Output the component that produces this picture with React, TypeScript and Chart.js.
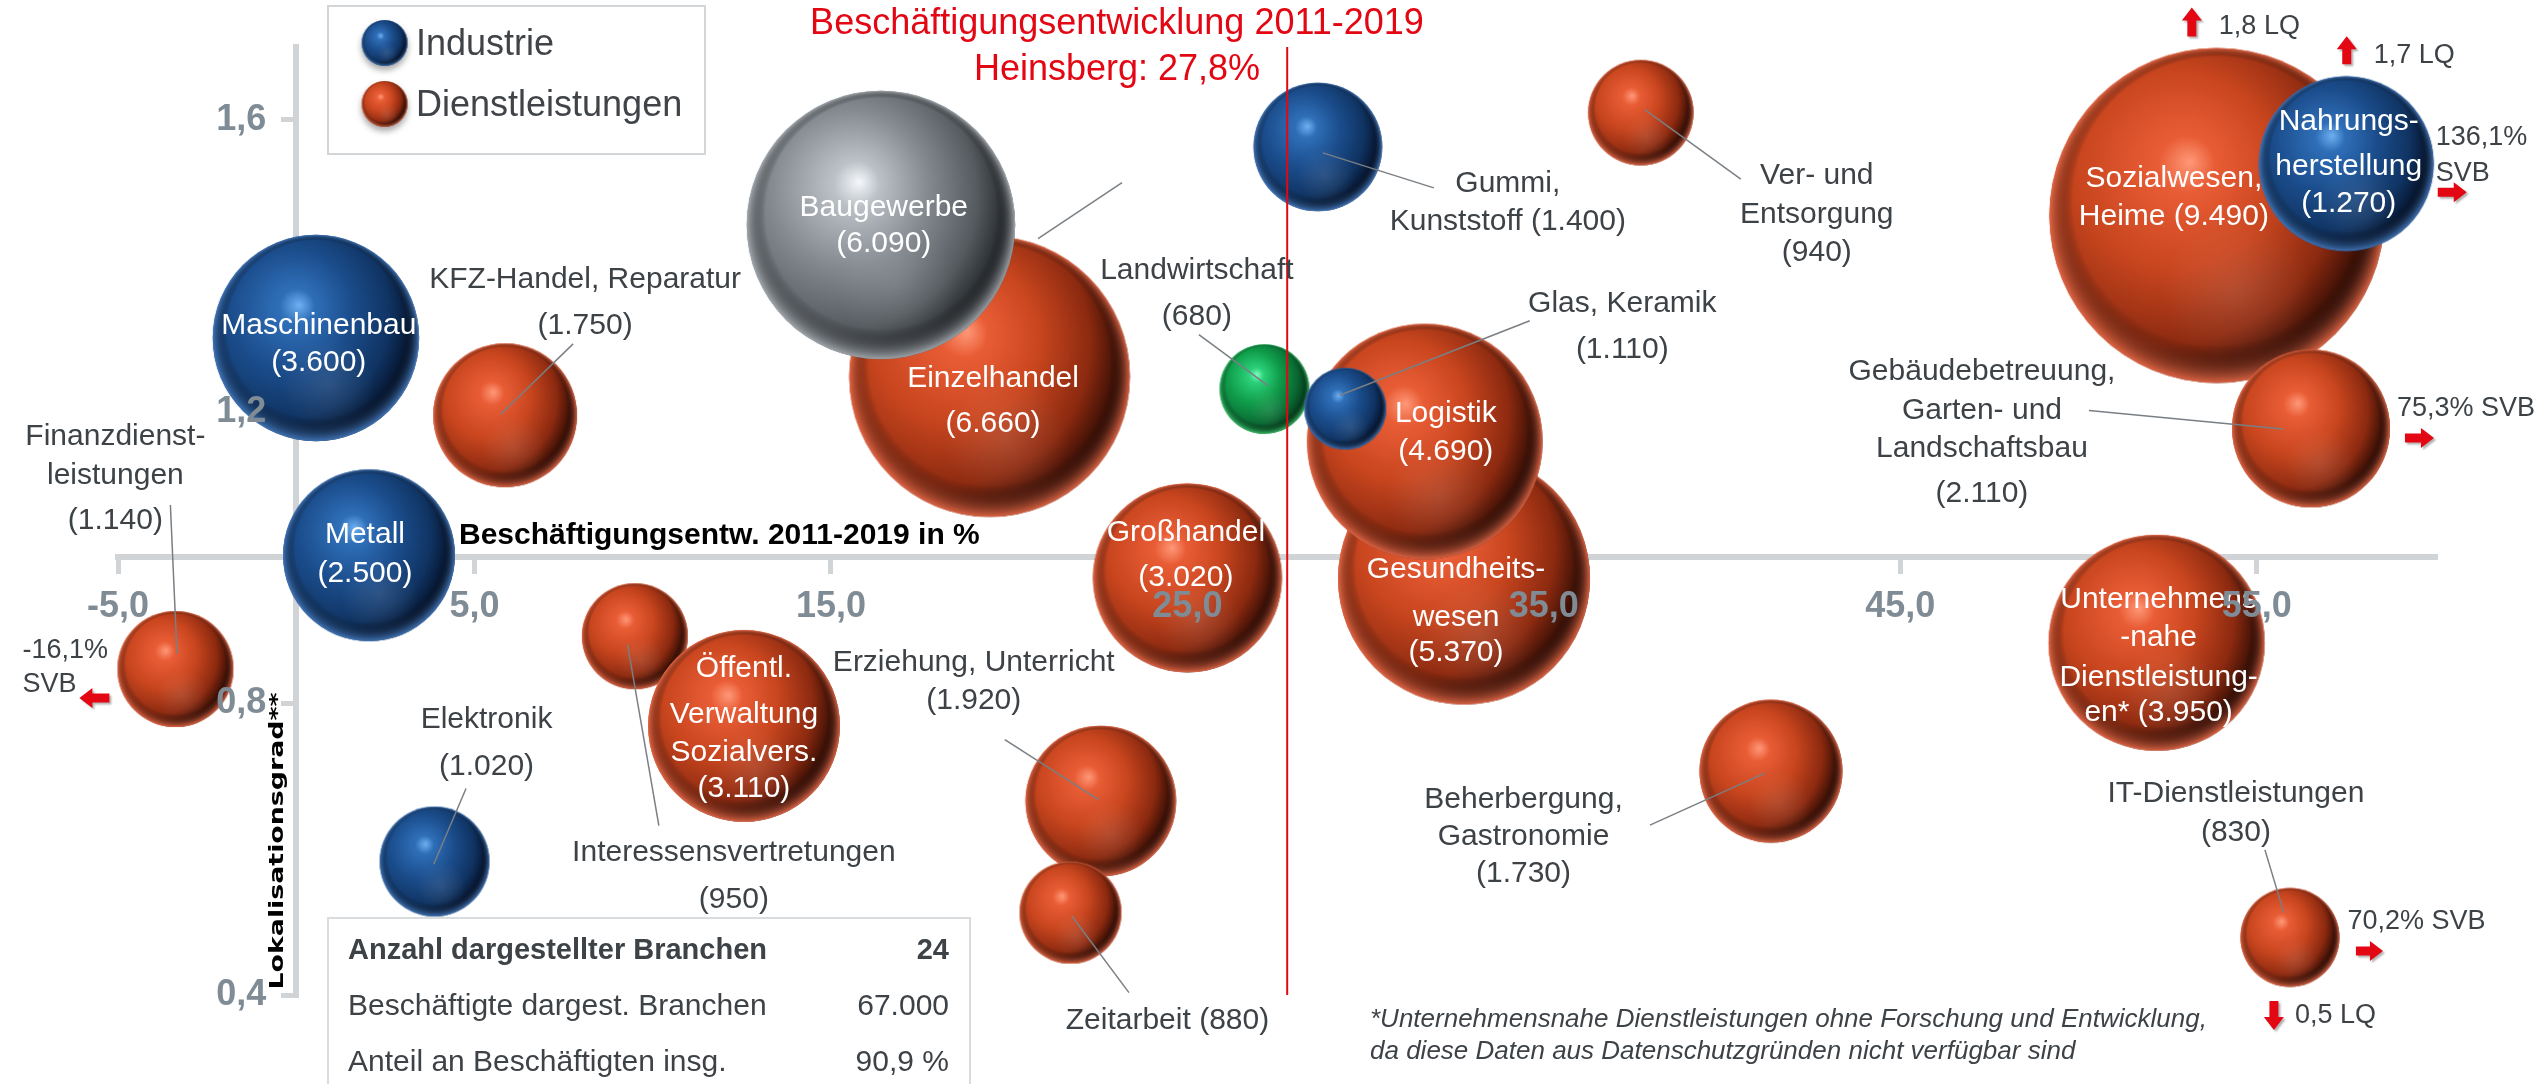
import React, { useEffect, useRef } from "react";
import { Chart, registerables } from "chart.js";

Chart.register(...registerables);

// ---------------- data ----------------
const xTickValues = [-5, 5, 15, 25, 35, 45, 55];
const yTickValues = [0.4, 0.8, 1.2, 1.6];
const xMin = -5;
const xMax = 60;
const yMin = 0.4;
const yMax = 1.7;
const heinsbergEntwicklung = 27.8;

const industrieBranchen = ["Maschinenbau", "Metall", "Elektronik", "Gummi, Kunststoff", "Glas, Keramik", "Nahrungsherstellung"];
const industrieEntwicklung = [0.55, 2.04, 3.88, 28.66, 29.43, 57.51];
const industrieLQ = [1.301, 1.003, 0.583, 1.563, 1.204, 1.54];
const industrieBeschaeftigte = [3600, 2500, 1020, 1400, 1110, 1270];
const industrieBubble = [3600, 2500, 1020, 1400, 570, 2590];

const bauBranchen = ["Baugewerbe"];
const bauEntwicklung = [16.4];
const bauLQ = [1.456];
const bauBeschaeftigte = [6090];
const bauBubble = [6090];

const agrarBranchen = ["Landwirtschaft"];
const agrarEntwicklung = [27.16];
const agrarLQ = [1.231];
const agrarBeschaeftigte = [680];
const agrarBubble = [680];

const dienstBranchen = [
  "Finanzdienstleistungen", "KFZ-Handel, Reparatur", "Einzelhandel", "Gesundheitswesen", "Logistik",
  "Großhandel", "Interessensvertretungen", "Öffentl. Verwaltung Sozialvers.", "Erziehung, Unterricht",
  "Zeitarbeit", "Ver- und Entsorgung", "Beherbergung, Gastronomie", "Sozialwesen, Heime",
  "Gebäudebetreuung, Garten- und Landschaftsbau", "Unternehmensnahe Dienstleistungen", "IT-Dienstleistungen",
];
const dienstEntwicklung = [-3.39, 5.86, 19.45, 32.76, 31.66, 25.0, 9.5, 12.56, 22.57, 21.72, 37.72, 41.37, 53.88, 56.52, 52.19, 55.93];
const dienstLQ = [0.847, 1.195, 1.248, 0.971, 1.159, 0.972, 0.892, 0.769, 0.666, 0.513, 1.61, 0.707, 1.469, 1.177, 0.883, 0.479];
const dienstBeschaeftigte = [1140, 1750, 6660, 5370, 4690, 3020, 950, 3110, 1920, 880, 940, 1730, 9490, 2110, 3950, 830];
const dienstBubble = [1140, 1750, 6660, 5370, 4690, 3020, 950, 3110, 1920, 880, 940, 1730, 9490, 2110, 3950, 830];

const legendLabels = ["Industrie", "Dienstleistungen"];
const titleLine1 = "Beschäftigungsentwicklung 2011-2019";
const xAxisTitle = "Beschäftigungsentw. 2011-2019 in %";
const yAxisTitle = "Lokalisationsgrad**";
const tableRows = [
  ["Anzahl dargestellter Branchen", "24"],
  ["Beschäftigte dargest. Branchen", "67.000"],
  ["Anteil an Beschäftigten insg.", "90,9 %"],
];
const footnoteLines = [
  "*Unternehmensnahe Dienstleistungen ohne Forschung und Entwicklung,",
  "da diese Daten aus Datenschutzgründen nicht verfügbar sind",
];

// ---------------- styles / layout ----------------
const FONT = '"Liberation Sans", Arial, Helvetica, sans-serif';
const DARK_TEXT = "#3d4247";
const TICK_COLOR = "#7f8b95";
const AXIS_COLOR = "#d0d4d7";
const RED = "#e30613";
const R_SCALE = 1.72; // px per sqrt(size)

type Pal = { hi: string; light: string; base: string; mid: string; dark: string; rim: string };
const PAL_ORANGE: Pal = { hi: "#ff9878", light: "#e95d36", base: "#c9461f", mid: "#8c2a10", dark: "#2c0b04", rim: "rgba(236,108,74,0.9)" };
const PAL_BLUE: Pal = { hi: "#6fb0f2", light: "#2f6fb8", base: "#1b4d8c", mid: "#103463", dark: "#05122a", rim: "rgba(70,125,195,0.9)" };
const PAL_GREY: Pal = { hi: "#f6f9fc", light: "#bcc2c7", base: "#848a90", mid: "#565b60", dark: "#222629", rim: "rgba(170,176,182,0.9)" };
const PAL_GREEN: Pal = { hi: "#7dffc0", light: "#2bd079", base: "#109c4a", mid: "#0a6a33", dark: "#043a1a", rim: "rgba(60,200,110,0.9)" };

type Note = { t: string; x: number; y: number };
type LabelLayout = {
  lines: string[];
  dx: number;
  dys: number[];
  white?: boolean;
  leader?: [number, number, number, number];
  notes?: Note[];
  arrows?: [number, number, number, number][];
};

// offsets in px relative to bubble centre; "#" is replaced with the employment number
const labelLayout: Record<string, LabelLayout> = {
  "Maschinenbau": { lines: ["Maschinenbau", "#"], dx: 3, dys: [-12, 25], white: true },
  "Metall": { lines: ["Metall", "#"], dx: -4, dys: [-21, 18], white: true },
  "Elektronik": { lines: ["Elektronik", "#"], dx: 52, dys: [-142, -95], leader: [31.5, -73, -0.8, 2.7] },
  "Gummi, Kunststoff": { lines: ["Gummi,", "Kunststoff #"], dx: 190, dys: [37, 75], leader: [5, 6, 116, 41] },
  "Glas, Keramik": { lines: ["Glas, Keramik", "#"], dx: 277, dys: [-105, -58.5], leader: [184.5, -88, -5.5, -13.5] },
  "Nahrungsherstellung": {
    lines: ["Nahrungs-", "herstellung", "#"], dx: 2.5, dys: [-42.4, 2.6, 40.2], white: true,
    notes: [{ t: "1,7 LQ", x: 27.5, y: -108.4 }, { t: "136,1%", x: 89.5, y: -26 }, { t: "SVB", x: 89.5, y: 9.6 }],
    arrows: [[0.5, -99.4, 0.5, -127.4], [91.5, 28.6, 120.5, 28.6]],
  },
  "Baugewerbe": { lines: ["Baugewerbe", "#"], dx: 3, dys: [-17, 19], white: true },
  "Landwirtschaft": { lines: ["Landwirtschaft", "#"], dx: -67.5, dys: [-118.4, -72.4], leader: [-65.5, -54.4, 3.5, -3.4] },
  "Finanzdienstleistungen": {
    lines: ["Finanzdienst-", "leistungen", "#"], dx: -60, dys: [-232, -193, -148], leader: [-5, -164, 1.6, -15],
    notes: [{ t: "-16,1%", x: -153, y: -18.5 }, { t: "SVB", x: -153, y: 15.7 }],
    arrows: [[-66, 29, -96, 29]],
  },
  "KFZ-Handel, Reparatur": { lines: ["KFZ-Handel, Reparatur", "#"], dx: 80, dys: [-136, -90], leader: [68, -71.4, -4.4, -1] },
  "Einzelhandel": { lines: ["Einzelhandel", "#"], dx: 3.5, dys: [2.6, 47], white: true, leader: [48.5, -138, 132.5, -194] },
  "Gesundheitswesen": { lines: ["Gesundheits-", "wesen", "#"], dx: -8, dys: [-9, 39, 74], white: true },
  "Logistik": { lines: ["Logistik", "#"], dx: 21, dys: [-28, 10], white: true },
  "Großhandel": { lines: ["Großhandel", "#"], dx: -1.5, dys: [-45, 0], white: true },
  "Interessensvertretungen": { lines: ["Interessensvertretungen", "#"], dx: 99, dys: [217, 263.5], leader: [-7.3, 8.5, 24, 189.5] },
  "Öffentl. Verwaltung Sozialvers.": { lines: ["Öffentl.", "Verwaltung", "Sozialvers.", "#"], dx: 0, dys: [-57.5, -11, 27, 63], white: true },
  "Erziehung, Unterricht": { lines: ["Erziehung, Unterricht", "#"], dx: -127, dys: [-138.5, -100.5], leader: [-96, -61.5, -2.3, -1.5] },
  "Zeitarbeit": { lines: ["Zeitarbeit #"], dx: 97, dys: [108], leader: [1.5, 3.7, 58.5, 80] },
  "Ver- und Entsorgung": { lines: ["Ver- und", "Entsorgung", "#"], dx: 176, dys: [63, 102, 140], leader: [4, -3, 100, 66.6] },
  "Beherbergung, Gastronomie": { lines: ["Beherbergung,", "Gastronomie", "#"], dx: -247.4, dys: [29, 65.5, 102.5], leader: [-121, 54, -6, 2] },
  "Sozialwesen, Heime": {
    lines: ["Sozialwesen,", "Heime #"], dx: -43, dys: [-36.4, 1], white: true,
    notes: [{ t: "1,8 LQ", x: 2, y: -189 }],
    arrows: [[-25, -179, -25, -208]],
  },
  "Gebäudebetreuung, Garten- und Landschaftsbau": {
    lines: ["Gebäudebetreuung,", "Garten- und", "Landschaftsbau", "#"], dx: -329, dys: [-57, -18, 20, 65.6], leader: [-222, -18, -28, 0.6],
    notes: [{ t: "75,3% SVB", x: 86, y: -20 }],
    arrows: [[94, 9.5, 123, 9.5]],
  },
  "Unternehmensnahe Dienstleistungen": { lines: ["Unternehmens", "-nahe", "Dienstleistung-", "en* #"], dx: 2, dys: [-43, -5, 35, 70], white: true },
  "IT-Dienstleistungen": {
    lines: ["IT-Dienstleistungen", "#"], dx: -54, dys: [-143.5, -104.5], leader: [-25, -87.5, -6, -24.5],
    notes: [{ t: "70,2% SVB", x: 57.5, y: -15.5 }, { t: "0,5 LQ", x: 5, y: 78.5 }],
    arrows: [[66, 13.5, 93, 13.5], [-16, 63.5, -16, 92.5]],
  },
};

// ---------------- helpers ----------------
function fmtThousands(v: number): string {
  return String(v).replace(/\B(?=(\d{3})+(?!\d))/g, ".");
}
function fmtDec(v: number): string {
  return v.toFixed(1).replace(".", ",");
}

function makeSphere(r: number, p: Pal): HTMLCanvasElement {
  const half = Math.ceil(r) + 2;
  const c = document.createElement("canvas");
  c.width = half * 2;
  c.height = half * 2;
  const g = c.getContext("2d")!;
  const cx = half;
  const cy = half;
  const main = g.createRadialGradient(cx - 0.16 * r, cy - 0.32 * r, 0, cx - 0.34 * r, cy - 0.2 * r, 1.4 * r);
  main.addColorStop(0, p.hi);
  main.addColorStop(0.12, p.light);
  main.addColorStop(0.42, p.base);
  main.addColorStop(0.72, p.mid);
  main.addColorStop(0.92, p.dark);
  main.addColorStop(1, p.dark);
  g.beginPath();
  g.arc(cx, cy, r, 0, Math.PI * 2);
  g.fillStyle = main;
  g.fill();
  // soft secondary reflection in lower part
  const refl = g.createRadialGradient(cx + 0.12 * r, cy + 0.45 * r, 0, cx + 0.12 * r, cy + 0.45 * r, 0.45 * r);
  refl.addColorStop(0, "rgba(255,255,255,0.10)");
  refl.addColorStop(1, "rgba(255,255,255,0)");
  g.fillStyle = refl;
  g.fill();
  // rim light at bottom
  const rim = g.createRadialGradient(cx, cy - 0.62 * r, 0, cx, cy, r);
  rim.addColorStop(0, "rgba(0,0,0,0)");
  rim.addColorStop(0.86, "rgba(0,0,0,0)");
  rim.addColorStop(1, p.rim);
  g.fillStyle = rim;
  g.fill();
  return c;
}

function drawArrow(ctx: CanvasRenderingContext2D, x1: number, y1: number, x2: number, y2: number) {
  const ang = Math.atan2(y2 - y1, x2 - x1);
  const len = Math.hypot(x2 - x1, y2 - y1);
  const head = 13;
  const hw = 10;
  const sw = 4.5;
  ctx.save();
  ctx.shadowColor = "rgba(0,0,0,0.3)";
  ctx.shadowOffsetX = 2;
  ctx.shadowOffsetY = 2;
  ctx.shadowBlur = 2;
  ctx.translate(x1, y1);
  ctx.rotate(ang);
  ctx.beginPath();
  ctx.moveTo(0, -sw);
  ctx.lineTo(len - head, -sw);
  ctx.lineTo(len - head, -hw);
  ctx.lineTo(len, 0);
  ctx.lineTo(len - head, hw);
  ctx.lineTo(len - head, sw);
  ctx.lineTo(0, sw);
  ctx.closePath();
  ctx.fillStyle = RED;
  ctx.fill();
  ctx.restore();
}

type Group = {
  label: string;
  names: string[];
  x: number[];
  y: number[];
  n: number[];
  size: number[];
  pal: Pal;
  order: number;
};

const groups: Group[] = [
  { label: "Industrie", names: industrieBranchen, x: industrieEntwicklung, y: industrieLQ, n: industrieBeschaeftigte, size: industrieBubble, pal: PAL_BLUE, order: 1 },
  { label: "Baugewerbe", names: bauBranchen, x: bauEntwicklung, y: bauLQ, n: bauBeschaeftigte, size: bauBubble, pal: PAL_GREY, order: 2 },
  { label: "Landwirtschaft", names: agrarBranchen, x: agrarEntwicklung, y: agrarLQ, n: agrarBeschaeftigte, size: agrarBubble, pal: PAL_GREEN, order: 3 },
  { label: "Dienstleistungen", names: dienstBranchen, x: dienstEntwicklung, y: dienstLQ, n: dienstBeschaeftigte, size: dienstBubble, pal: PAL_ORANGE, order: 4 },
];

const decorPlugin = {
  id: "decor",
  afterDatasetsDraw(chart: any) {
    const ctx: CanvasRenderingContext2D = chart.ctx;
    const xs = chart.scales.x;
    const ys = chart.scales.y;
    ctx.save();
    // Heinsberg line
    const lx = xs.getPixelForValue(heinsbergEntwicklung);
    ctx.strokeStyle = RED;
    ctx.lineWidth = 2;
    ctx.beginPath();
    ctx.moveTo(lx, ys.getPixelForValue(yMax));
    ctx.lineTo(lx, ys.getPixelForValue(yMin));
    ctx.stroke();

    // bubble labels
    groups.forEach((grp) => {
      grp.names.forEach((name, i) => {
        const L = labelLayout[name];
        if (!L) return;
        const cx = xs.getPixelForValue(grp.x[i]);
        const cy = ys.getPixelForValue(grp.y[i]);
        if (L.leader) {
          ctx.strokeStyle = "#7a7f84";
          ctx.lineWidth = 1.5;
          ctx.beginPath();
          ctx.moveTo(cx + L.leader[0], cy + L.leader[1]);
          ctx.lineTo(cx + L.leader[2], cy + L.leader[3]);
          ctx.stroke();
        }
        ctx.font = `30px ${FONT}`;
        ctx.textAlign = "center";
        ctx.textBaseline = "middle";
        ctx.fillStyle = L.white ? "#ffffff" : DARK_TEXT;
        L.lines.forEach((line, k) => {
          const txt = line.replace("#", `(${fmtThousands(grp.n[i])})`);
          ctx.fillText(txt, cx + L.dx, cy + L.dys[k]);
        });
        if (L.notes) {
          ctx.font = `27px ${FONT}`;
          ctx.textAlign = "left";
          ctx.fillStyle = DARK_TEXT;
          L.notes.forEach((nt) => ctx.fillText(nt.t, cx + nt.x, cy + nt.y));
        }
        if (L.arrows) {
          L.arrows.forEach((a) => drawArrow(ctx, cx + a[0], cy + a[1], cx + a[2], cy + a[3]));
        }
      });
    });
    ctx.restore();
  },
  afterDraw(chart: any) {
    const ctx: CanvasRenderingContext2D = chart.ctx;
    ctx.save();
    // title
    ctx.fillStyle = RED;
    ctx.font = `36px ${FONT}`;
    ctx.textAlign = "center";
    ctx.textBaseline = "alphabetic";
    ctx.fillText(titleLine1, 1117, 34);
    ctx.fillText(`Heinsberg: ${fmtDec(heinsbergEntwicklung)}%`, 1117, 80);

    // legend
    ctx.fillStyle = "#ffffff";
    ctx.fillRect(328, 6, 377, 148);
    ctx.strokeStyle = "#d3d6d9";
    ctx.lineWidth = 2;
    ctx.strokeRect(328, 6, 377, 148);
    const legendPals = [PAL_BLUE, PAL_ORANGE];
    legendLabels.forEach((lab, k) => {
      const my = 43 + k * 61;
      const sph = makeSphere(23, legendPals[k]);
      ctx.save();
      ctx.shadowColor = "rgba(0,0,0,0.35)";
      ctx.shadowBlur = 6;
      ctx.shadowOffsetY = 4;
      ctx.drawImage(sph, 384.6 - sph.width / 2, my - sph.height / 2);
      ctx.restore();
      ctx.fillStyle = "#404448";
      ctx.font = `36px ${FONT}`;
      ctx.textAlign = "left";
      ctx.textBaseline = "middle";
      ctx.fillText(lab, 416, my + 2);
    });

    // axis titles
    ctx.fillStyle = "#000000";
    ctx.font = `bold 30px ${FONT}`;
    ctx.textAlign = "left";
    ctx.textBaseline = "middle";
    ctx.fillText(xAxisTitle, 459, 536);
    ctx.save();
    ctx.translate(283, 841);
    ctx.rotate(-Math.PI / 2);
    ctx.font = `bold 18px "DejaVu Sans", Verdana, sans-serif`;
    const w = ctx.measureText(yAxisTitle).width;
    const sx = 297 / w;
    ctx.scale(sx, 1.05);
    ctx.textAlign = "center";
    ctx.textBaseline = "alphabetic";
    ctx.fillText(yAxisTitle, 0, 0);
    ctx.restore();

    // info table
    ctx.fillStyle = "#ffffff";
    ctx.fillRect(328, 918, 642, 200);
    ctx.strokeStyle = "#d9dcdf";
    ctx.lineWidth = 2;
    ctx.strokeRect(328, 918, 642, 200);
    tableRows.forEach((row, k) => {
      const ry = 951 + k * 56;
      ctx.fillStyle = DARK_TEXT;
      ctx.font = k === 0 ? `bold 29px ${FONT}` : `30px ${FONT}`;
      ctx.textAlign = "left";
      ctx.fillText(row[0], 348, ry);
      ctx.textAlign = "right";
      ctx.fillText(row[1], 949, ry);
    });

    // footnote
    ctx.fillStyle = DARK_TEXT;
    ctx.font = `italic 26px ${FONT}`;
    ctx.textAlign = "left";
    footnoteLines.forEach((ln, k) => ctx.fillText(ln, 1370, 1020 + k * 32));
    ctx.restore();
  },
};

export default function App() {
  const ref = useRef<HTMLCanvasElement | null>(null);
  useEffect(() => {
    if (!ref.current) return;
    const datasets = groups.map((grp) => {
      const radii = grp.size.map((s) => R_SCALE * Math.sqrt(s));
      const spheres = radii.map((r) => makeSphere(r, grp.pal));
      return {
        label: grp.label,
        order: grp.order,
        clip: false as any,
        data: grp.names.map((_, i) => ({ x: grp.x[i], y: grp.y[i], r: radii[i] })),
        pointStyle: (c: any) => spheres[c.dataIndex],
        backgroundColor: "rgba(0,0,0,0)",
        borderWidth: 0,
      };
    });
    const chart = new Chart(ref.current, {
      type: "bubble",
      data: { datasets: datasets as any },
      options: {
        animation: false,
        responsive: false,
        maintainAspectRatio: false,
        events: [],
        layout: { autoPadding: false, padding: { left: 118, right: 107, top: 47, bottom: 89 } },
        plugins: { legend: { display: false }, tooltip: { enabled: false } },
        scales: {
          x: {
            type: "linear",
            min: xMin,
            max: xMax,
            position: { y: 1 } as any,
            afterBuildTicks: (s: any) => {
              s.ticks = xTickValues.map((v) => ({ value: v }));
            },
            ticks: {
              callback: (v: any) => fmtDec(Number(v)),
              color: TICK_COLOR,
              font: { family: FONT, size: 36, weight: "bold" },
              padding: 14,
              maxRotation: 0,
              autoSkip: false,
              z: 1,
            } as any,
            grid: { drawOnChartArea: false, drawTicks: true, tickLength: 14, color: AXIS_COLOR, tickColor: AXIS_COLOR, tickWidth: 5, lineWidth: 5 } as any,
            border: { display: true, color: AXIS_COLOR, width: 6 },
          },
          y: {
            type: "linear",
            min: yMin,
            max: yMax,
            position: { x: 0 } as any,
            afterBuildTicks: (s: any) => {
              s.ticks = yTickValues.map((v) => ({ value: v }));
            },
            ticks: {
              // trailing no-break spaces keep the label clear of the axis line
              callback: (v: any) => fmtDec(Number(v)) + "\u00A0\u00A0\u00A0",
              color: TICK_COLOR,
              font: { family: FONT, size: 36, weight: "bold" },
              padding: 20,
              autoSkip: false,
              z: 1,
            } as any,
            grid: { drawOnChartArea: false, drawTicks: true, tickLength: 12, color: AXIS_COLOR, tickColor: AXIS_COLOR, tickWidth: 5, lineWidth: 5 } as any,
            border: { display: true, color: AXIS_COLOR, width: 6 },
          },
        },
      },
      plugins: [decorPlugin],
    });
    return () => chart.destroy();
  }, []);
  return (
    <div style={{ position: "absolute", left: 0, top: 0, width: 2542, height: 1084, background: "#ffffff" }}>
      <canvas ref={ref} width={2542} height={1084} style={{ display: "block", width: 2542, height: 1084 }} />
    </div>
  );
}
